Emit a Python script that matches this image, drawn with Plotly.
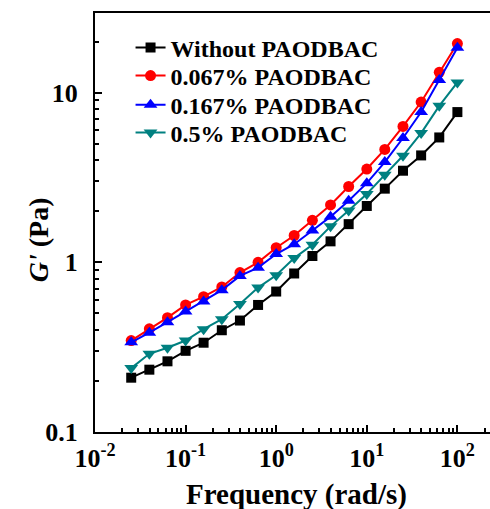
import plotly.graph_objects as go

freq = [0.0251, 0.0398, 0.0631, 0.1, 0.158, 0.251, 0.398, 0.631, 1.0, 1.58,
        2.51, 3.98, 6.31, 10.0, 15.8, 25.1, 39.8, 63.1, 100.0]
g_without = [0.209, 0.233, 0.261, 0.301, 0.336, 0.398, 0.454, 0.561, 0.673, 0.86,
             1.09, 1.33, 1.68, 2.15, 2.72, 3.47, 4.27, 5.45, 7.69]
g_0067 = [0.346, 0.406, 0.472, 0.561, 0.628, 0.716, 0.871, 1.00, 1.22, 1.44,
          1.77, 2.18, 2.80, 3.55, 4.63, 6.33, 8.81, 13.2, 19.5]
g_0167 = [0.338, 0.385, 0.444, 0.513, 0.587, 0.686, 0.832, 0.931, 1.12, 1.28,
          1.54, 1.86, 2.31, 2.93, 3.90, 5.41, 7.69, 11.9, 18.4]
g_05 = [0.238, 0.289, 0.314, 0.346, 0.404, 0.462, 0.569, 0.710, 0.839, 1.06,
        1.27, 1.63, 2.02, 2.53, 3.28, 4.25, 5.78, 8.37, 11.5]

names = ["Without PAODBAC", "0.067% PAODBAC", "0.167% PAODBAC", "0.5% PAODBAC"]
series = [g_without, g_0067, g_0167, g_05]
colors = ["#000000", "#ff0000", "#0000ff", "#008080"]
symbols = ["square", "circle", "triangle-up", "triangle-down"]
sizes = [10, 11, 12, 12]

x_tickvals = [0.01, 0.1, 1, 10, 100]
x_ticktext = ["10<sup>-2</sup>", "10<sup>-1</sup>", "10<sup>0</sup>", "10<sup>1</sup>", "10<sup>2</sup>"]
y_tickvals = [0.1, 1, 10]
y_ticktext = ["0.1", "1", "10"]

FONT = "Liberation Serif"
legend_ids = ["legend", "legend2", "legend3", "legend4"]
legend_y = [0.9165, 0.8496, 0.780, 0.7136]

fig = go.Figure()
for n, s, c, sym, sz, lid in zip(names, series, colors, symbols, sizes, legend_ids):
    fig.add_trace(go.Scatter(x=freq, y=s, mode="lines+markers", name=n, legend=lid,
                             line=dict(color=c, width=2),
                             marker=dict(symbol=sym, size=sz, color=c)))

def minor_vals(lo, hi):
    v = []
    for e in range(lo, hi):
        for k in range(2, 10):
            v.append(k * 10.0 ** e)
    return v

legend_cfg = {}
for lid, ly in zip(legend_ids, legend_y):
    legend_cfg[lid] = dict(x=0.09, y=ly, xanchor="left", yanchor="middle",
                           bgcolor="rgba(0,0,0,0)", borderwidth=0,
                           font=dict(family=FONT, size=24, color="black", weight="bold"))

fig.update_layout(
    width=490, height=509,
    margin=dict(l=95, r=0, t=13, b=77),
    paper_bgcolor="white", plot_bgcolor="white",
    font=dict(family=FONT, size=20, color="black"),
    showlegend=True,
    **legend_cfg,
    xaxis=dict(type="log", range=[-2, 2.36],
               tickmode="array", tickvals=x_tickvals, ticktext=x_ticktext,
               ticks="inside", ticklen=7, tickwidth=1.5, tickcolor="black",
               showline=True, linecolor="black", linewidth=2, mirror=True,
               showgrid=False, zeroline=False, ticklabelstandoff=2,
               tickfont=dict(family=FONT, size=26, color="black", weight="bold"),
               minor=dict(tickmode="array", tickvals=minor_vals(-2, 3), ticks="inside",
                          ticklen=4, tickcolor="black", showgrid=False)),
    yaxis=dict(type="log", range=[-1, 1.47],
               tickmode="array", tickvals=y_tickvals, ticktext=y_ticktext,
               ticks="inside", ticklen=7, tickwidth=1.5, tickcolor="black",
               showline=True, linecolor="black", linewidth=2, mirror=False,
               showgrid=False, zeroline=False, ticklabelstandoff=10,
               tickfont=dict(family=FONT, size=26, color="black", weight="bold"),
               minor=dict(tickmode="array", tickvals=minor_vals(-1, 2), ticks="inside",
                          ticklen=4, tickcolor="black", showgrid=False)),
    annotations=[
        dict(text="Frequency (rad/s)", xref="paper", yref="paper", x=0.51, y=-0.148,
             xanchor="center", yanchor="middle", showarrow=False,
             font=dict(family=FONT, size=29, color="black", weight="bold")),
        dict(text="<i>G'</i> (Pa)", xref="paper", yref="paper", x=-0.144, y=0.458,
             xanchor="center", yanchor="middle", showarrow=False, textangle=-90,
             font=dict(family=FONT, size=28, color="black", weight="bold")),
    ],
)

fig.write_html("out.html", config={"displayModeBar": False},
               post_script="document.body.style.margin='0';document.body.style.overflow='hidden';")
